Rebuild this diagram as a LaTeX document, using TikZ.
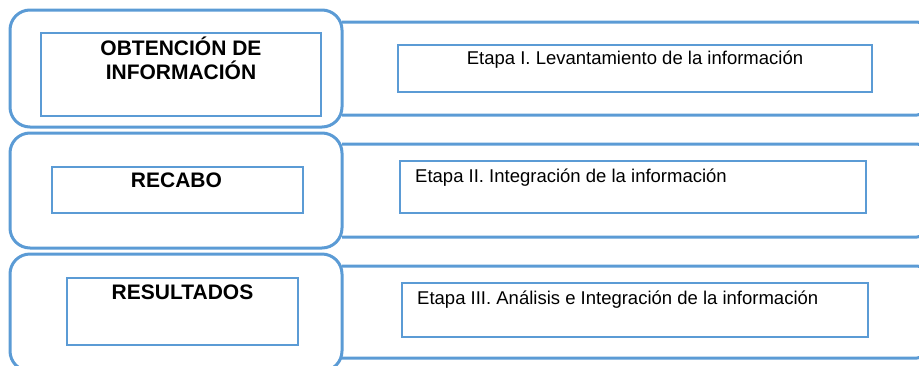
\documentclass[tikz,border=0pt]{standalone}
\usepackage{fontspec}
\setmainfont{Liberation Sans}
\definecolor{stageblue}{HTML}{5B9BD5}
\tikzset{
  phase/.style={draw=stageblue, line width=3pt, rounded corners=20pt},
  labelbox/.style={draw=stageblue, line width=2.6pt},
  band/.style={draw=stageblue, line width=3pt, rounded corners=8pt},
  stagetitle/.style={font=\fontsize{21}{24}\selectfont\bfseries, align=center, inner sep=0pt},
  stagetext/.style={font=\fontsize{18.5}{22}\selectfont, inner sep=0pt}
}
\begin{document}
\begin{tikzpicture}[x=1pt, y=-1pt]
    \useasboundingbox (0,0) rectangle (919,365);
    \clip (0,0) rectangle (919,365);
    % bands on the right
    \foreach \i/\top/\bot in {1/22/115, 2/144/237, 3/266/358} {
        \coordinate (banda\i nw) at (342,\top);
        \coordinate (banda\i sw) at (342,\bot);
        \draw[band] (banda\i nw) -- (925,\top) -- (925,\bot) -- (banda\i sw);
    }
    % rounded phase boxes
    \node[phase, minimum width=332pt, minimum height=117pt] (fase1) at (176,68.5) {};
    \node[phase, minimum width=332pt, minimum height=115pt] (fase2) at (176,190.5) {};
    \node[phase, minimum width=332pt, minimum height=117pt] (fase3) at (176,312.5) {};
    % title boxes
    \node[labelbox, minimum width=280pt, minimum height=83pt] (titulo1) at (181,74.5) {};
    \node[labelbox, minimum width=251pt, minimum height=46pt] (titulo2) at (177.5,190) {};
    \node[labelbox, minimum width=231pt, minimum height=67pt] (titulo3) at (182.5,311.5) {};
    \node[stagetitle, anchor=base] (nombre1) at (181,79) {OBTENCIÓN DE\\INFORMACIÓN};
    \node[stagetitle, anchor=base] (nombre2) at (176.5,187) {RECABO};
    \node[stagetitle, anchor=base] (nombre3) at (182.5,299) {RESULTADOS};
    % stage boxes
    \node[labelbox, minimum width=474pt, minimum height=47pt] (etapa1) at (635,68.5) {};
    \node[labelbox, minimum width=466pt, minimum height=52pt] (etapa2) at (633,187) {};
    \node[labelbox, minimum width=466pt, minimum height=54pt] (etapa3) at (635,310) {};
    \node[stagetext, anchor=base] (texto1) at (635,64) {Etapa I. Levantamiento de la información};
    \node[stagetext, anchor=base west] (texto2) at (415,182) {Etapa II. Integración de la información};
    \node[stagetext, anchor=base west] (texto3) at (417,304) {Etapa III. Análisis e Integración de la información};
\end{tikzpicture}
\end{document}
